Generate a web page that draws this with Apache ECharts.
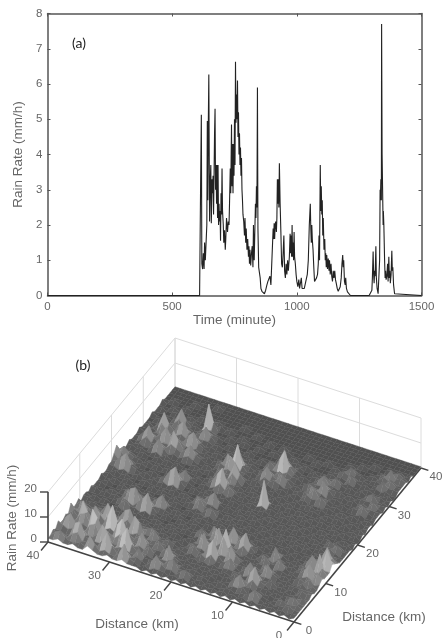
<!DOCTYPE html>
<html><head><meta charset="utf-8">
<style>html,body{margin:0;padding:0;background:#fff}#c{width:448px;height:638px}</style>
<script src="https://cdn.jsdelivr.net/npm/echarts@6/dist/echarts.min.js"></script>
</head><body><div id="c"></div>
<script>
const timeMinutes=[0,610,613,614,617,619,622,625,628,630,633,636,639,641,643,645,647,650,653,655,657,660,662,664,666,668,670,672,674,676,678,680,682,684,686,688,690,692,694,696,698,700,702,705,707,710,713,715,718,722,725,728,730,733,735,738,740,742,744,746,748,750,752,754,756,758,760,762,764,766,768,770,772,774,776,778,780,782,784,787,790,792,795,797,800,803,806,808,810,812,815,818,821,824,826,829,834,836,838,840,842,844,847,850,853,856,860,865,870,875,880,884,888,892,896,900,902,905,907,909,911,913,915,918,920,922,924,926,928,930,933,936,939,942,945,948,951,954,957,960,963,966,970,973,975,977,979,981,983,985,987,989,991,994,997,1000,1004,1008,1011,1015,1018,1021,1026,1030,1034,1038,1042,1046,1050,1054,1056,1058,1060,1062,1065,1068,1071,1075,1079,1083,1086,1089,1091,1094,1096,1098,1100,1102,1104,1106,1109,1112,1114,1116,1118,1120,1123,1126,1129,1131,1134,1137,1140,1143,1146,1149,1152,1155,1158,1162,1166,1170,1174,1178,1181,1184,1186,1188,1191,1194,1196,1199,1203,1208,1215,1290,1297,1301,1303,1306,1308,1310,1312,1314,1317,1319,1322,1326,1329,1332,1334,1335,1337,1339,1340,1342,1344,1346,1347,1349,1352,1354,1356,1358,1361,1364,1366,1369,1371,1373,1375,1378,1381,1383,1385,1388,1392,1396,1500];
const rainRate=[0,0,0,3.1,5.13,0.9,0.75,1.2,0.75,1.5,1.0,1.5,2.0,4.95,2.7,4.9,6.27,2.1,3.3,3.7,2.05,3.3,2.9,3.4,2.3,3.4,4.6,5.3,3.0,3.7,2.6,3.7,2.2,3.7,2.0,2.6,2.1,2.4,1.55,2.9,2.3,3.6,2.4,2.0,1.5,1.85,1.3,1.6,2.2,1.8,2.1,2.0,2.6,3.6,2.9,4.85,3.1,4.3,2.9,4.3,3.4,5.0,3.7,6.63,4.9,5.7,5.0,6.1,4.5,5.2,4.0,4.6,3.7,4.2,3.4,3.9,3.0,2.7,2.3,2.1,1.7,2.2,1.5,1.9,1.3,1.6,1.1,1.4,0.9,1.3,0.85,1.2,1.4,0.8,2.0,1.0,2.6,2.2,3.1,2.5,5.9,1.9,0.8,0.75,0.5,0.2,0.12,0.08,0.05,0.15,0.3,0.4,0.35,0.55,0.3,0.35,0.3,1.9,1.6,2.05,1.6,2.0,2.1,1.8,2.2,3.3,2.6,3.3,2.5,3.75,2.6,1.8,0.9,0.8,1.2,1.7,0.7,0.5,0.9,0.6,1.0,0.7,1.1,1.75,1.2,1.7,1.1,2.0,1.1,1.5,1.0,1.8,1.1,0.9,0.6,0.4,0.25,0.45,0.2,0.2,0.5,0.2,0.25,0.2,0.25,0.15,0.6,1.0,2.0,2.6,1.9,1.5,2.0,1.6,1.3,0.8,0.4,0.45,0.5,0.6,0.9,1.7,1.0,3.7,2.4,3.1,2.3,2.7,1.7,2.2,1.3,1.6,1.0,1.2,0.8,1.15,0.75,1.05,0.7,1.0,0.6,0.9,0.55,0.4,0.7,0.5,0.7,0.45,0.35,0.2,0.12,0.1,0.25,0.5,0.9,1.15,0.8,1.0,0.4,0.3,0.5,0.2,0.1,0.05,0,0,0.03,0.15,0.5,1.25,0.6,0.35,0.7,0.55,1.4,0.5,0.2,0.05,0.1,1.0,3.0,2.7,3.3,2.7,7.7,4.0,3.0,2.0,2.4,2.0,1.0,0.5,0.7,0.45,0.55,0.9,0.4,1.1,0.5,0.7,0.35,0.6,1.27,0.7,0.8,0.3,0.05,0,0];
const distanceTicks=[0,10,20,30,40];
const heightTicks=[0,10,20];
const gridStepKm=0.8;
// surface heights (mm/h); row index runs along the left base edge, column index along the right base edge
const r50=[1,1,2,1,3,1,1,2,1,4,1,1,2,0,1,1,0,1,0,0,0,1,0,0,1,1,3,5,2,1,0,0,1,0,0,0,1,0,0,0,0,1,0,0,0,1,0,0,0,0,0];
const r49=[1,3,1,1,2,4,1,1,3,2,1,3,1,0,1,0,0,1,0,1,0,0,1,0,1,2,1,3,4,1,0,1,0,0,1,0,0,0,1,0,0,0,0,1,0,0,0,0,0,0,0];
const r48=[2,4,2,0,1,6,2,1,1,1,5,2,1,1,0,1,0,0,0,0,1,0,0,1,0,4,2,1,2,1,0,0,1,1,3,1,0,1,0,0,1,0,0,0,0,0,1,0,0,0,0];
const r47=[1,2,1,1,2,3,1,4,8,3,2,1,0,1,0,0,0,1,0,0,0,1,0,0,1,6,3,1,1,0,0,1,0,3,6,2,1,0,2,1,0,1,0,0,1,0,0,0,0,0,0];
const r46=[1,1,3,6,2,1,2,5,4,1,1,3,1,0,0,1,0,0,1,0,0,0,0,1,0,2,1,0,1,0,1,0,0,1,2,1,1,4,7,2,0,0,0,1,0,0,0,0,0,0,0];
const r45=[2,1,4,7,3,1,1,1,2,6,3,1,1,1,0,0,0,1,0,0,1,0,1,0,0,1,0,1,0,0,0,0,2,1,0,3,2,2,3,1,1,2,0,0,0,1,0,0,0,0,0];
const r44=[1,2,1,2,1,4,9,3,1,3,2,1,4,1,0,0,1,0,0,1,0,0,0,0,1,0,0,0,1,0,0,1,5,2,1,6,3,1,1,0,3,6,1,0,0,0,0,1,0,0,0];
const r43=[1,1,2,1,1,5,6,2,1,1,7,3,1,0,1,1,2,1,3,1,0,1,0,0,0,1,0,0,0,0,1,0,2,1,1,2,1,1,4,2,1,2,0,1,0,0,0,0,0,0,0];
const r42=[3,6,2,1,3,1,2,1,5,2,4,1,0,1,0,3,1,5,2,0,1,0,0,1,0,0,1,0,1,0,0,1,0,3,7,3,1,2,6,2,1,0,1,0,0,0,0,0,0,0,0];
const r41=[2,3,1,1,7,4,1,2,10,4,1,2,1,0,0,1,0,6,3,1,0,0,0,0,1,0,0,0,0,0,1,0,1,2,4,2,1,1,2,1,0,1,0,0,1,0,0,0,0,0,0];
const r40=[1,1,4,2,5,3,1,1,4,2,1,5,2,1,0,1,2,1,1,0,1,0,1,0,0,1,0,0,1,0,0,0,0,1,1,1,4,2,1,1,1,0,0,0,0,0,0,0,1,0,0];
const r39=[1,2,8,3,1,2,6,3,1,1,3,6,2,0,1,0,4,2,1,1,0,0,0,0,1,2,0,1,0,0,1,0,1,3,1,0,6,3,1,2,1,1,10,2,0,0,0,0,0,0,0];
const r38=[2,1,3,1,1,4,9,5,1,2,1,2,1,0,0,1,7,3,1,1,0,0,1,0,0,5,2,1,0,0,0,0,2,5,2,1,2,1,1,5,2,1,3,0,1,0,0,0,0,0,0];
const r37=[1,1,1,2,6,2,4,2,1,7,3,1,0,1,0,0,2,1,3,1,0,1,0,0,1,7,3,2,0,1,0,0,1,2,1,0,1,0,1,2,1,0,0,1,0,0,0,0,0,0,0];
const r36=[1,3,1,2,9,4,1,1,2,5,1,1,1,0,0,1,0,1,5,2,0,0,0,1,0,2,1,4,1,0,0,1,0,1,0,1,0,1,0,0,1,0,0,0,0,0,0,0,0,0,0];
const r35=[2,7,3,1,3,1,1,3,1,1,2,1,0,0,1,0,0,1,1,0,0,1,0,0,0,0,1,1,0,0,1,0,0,0,1,0,0,0,1,0,0,0,0,1,0,0,0,0,0,0,0];
const r34=[1,2,1,1,1,2,6,3,1,1,3,1,0,1,0,0,1,0,0,0,1,0,0,1,0,0,0,0,1,0,0,0,1,0,0,0,1,0,0,0,0,1,0,0,0,0,0,0,0,0,0];
const r33=[1,1,2,4,1,1,2,1,1,4,1,0,1,0,0,0,0,0,1,0,0,0,1,0,0,1,0,0,0,0,0,1,0,0,1,0,0,0,0,1,0,0,0,0,0,1,0,0,0,0,0];
const r32=[1,0,1,1,1,3,1,1,2,1,0,1,0,0,1,0,0,1,0,0,0,1,0,0,0,0,0,1,0,1,0,0,1,2,1,0,0,1,0,0,0,0,1,0,0,0,0,0,0,0,0];
const r31=[0,1,0,1,0,1,1,3,1,1,1,0,0,1,0,0,1,0,0,1,0,1,3,1,0,1,0,0,2,1,1,3,1,1,5,2,1,0,1,0,0,1,0,0,0,0,0,0,0,0,0];
const r30=[1,0,2,1,1,0,1,1,1,2,0,0,1,0,0,1,0,0,0,0,1,4,2,1,1,0,1,1,5,2,1,1,2,6,3,1,2,1,0,0,0,0,0,0,1,0,0,0,0,0,0];
const r29=[0,1,5,2,1,1,3,1,0,1,1,0,0,0,1,0,0,1,0,1,0,1,1,3,1,0,0,3,8,3,1,2,1,4,10,5,1,0,0,1,0,0,0,0,0,0,0,0,0,0,0];
const r28=[1,1,2,1,1,6,2,1,1,0,0,1,0,0,0,0,1,0,1,0,2,1,1,5,1,0,1,1,2,1,4,7,2,1,2,1,0,1,0,0,0,1,0,0,0,0,0,0,0,0,0];
const r27=[0,1,1,3,1,2,1,0,1,1,0,0,1,0,1,0,0,0,0,1,3,1,0,1,0,1,0,3,1,1,2,3,1,1,0,1,1,0,0,0,0,0,0,1,0,0,0,0,0,0,0];
const r26=[1,0,1,4,1,1,0,1,0,1,2,1,0,1,3,1,0,1,0,0,0,1,0,0,0,0,1,1,0,1,0,1,0,0,1,0,0,0,1,0,0,0,0,0,0,0,0,0,0,0,0];
const r25=[0,1,0,1,1,0,1,0,1,3,1,1,4,1,1,0,0,0,0,1,0,0,0,1,0,1,0,0,1,0,0,0,1,0,0,1,0,0,0,0,0,1,0,0,0,0,0,0,0,0,0];
const r24=[1,0,2,1,0,1,0,1,0,1,1,6,2,1,1,4,1,0,1,0,0,1,0,0,0,0,0,1,0,0,1,0,1,0,2,1,1,3,1,0,0,0,0,1,0,0,0,0,0,0,0];
const r23=[0,1,3,1,1,0,1,0,2,1,0,2,1,1,5,2,0,1,0,0,1,0,0,1,0,1,0,0,0,1,0,1,0,2,5,2,1,1,1,1,0,0,1,0,0,0,0,0,0,0,0];
const r22=[1,0,1,0,1,1,0,1,1,5,2,1,1,7,3,1,1,0,0,1,0,0,1,0,0,0,1,0,1,0,0,0,1,1,2,1,1,5,2,0,1,0,0,0,0,0,0,0,0,0,0];
const r21=[0,1,0,1,0,0,1,0,3,8,3,1,3,2,1,2,0,0,1,0,0,1,0,0,1,0,0,1,0,0,1,0,0,2,1,3,1,9,4,1,0,1,0,0,0,0,0,0,0,0,0];
const r20=[1,0,1,1,0,1,0,1,1,2,1,7,9,2,1,6,2,0,0,1,0,0,0,1,0,0,1,10,1,0,0,1,0,1,4,1,2,3,2,0,1,0,0,0,0,0,0,0,0,0,0];
const r19=[0,1,0,0,1,0,1,0,1,0,1,3,3,1,1,3,1,1,0,0,1,0,1,0,0,1,0,1,0,1,0,0,1,0,2,1,1,1,1,1,0,0,0,1,0,0,0,0,0,0,0];
const r18=[1,0,1,0,0,1,0,1,2,1,6,2,1,1,4,1,0,0,1,0,0,0,0,1,0,0,1,0,0,0,1,0,0,1,0,0,1,0,0,0,1,0,0,0,0,0,0,0,0,0,0];
const r17=[0,1,0,1,0,0,1,1,4,1,3,1,0,3,7,2,1,0,0,1,0,1,0,0,1,0,0,0,1,0,0,1,0,0,1,0,0,1,0,0,0,0,1,0,0,0,0,0,0,0,0];
const r16=[1,0,0,1,0,1,0,1,1,1,1,0,1,1,2,1,0,1,0,0,1,0,0,1,0,0,1,0,0,1,0,0,1,1,0,1,0,0,0,1,0,0,0,0,0,0,0,0,0,0,0];
const r15=[0,1,1,0,1,0,2,1,0,1,0,1,0,1,0,1,0,0,1,0,0,1,0,0,0,1,0,0,1,0,1,0,0,1,0,2,1,0,1,0,0,0,0,1,0,0,0,0,0,0,0];
const r14=[1,0,1,1,3,1,1,0,2,1,1,0,1,0,0,0,1,0,0,1,0,0,0,1,0,0,1,0,0,0,0,1,2,1,3,1,1,2,0,1,0,0,0,0,0,0,0,0,0,0,0];
const r13=[0,1,0,1,5,2,0,1,5,2,1,1,0,2,1,0,0,1,0,0,1,0,1,0,0,1,0,0,1,0,1,0,1,4,2,1,1,4,2,0,1,0,1,0,0,0,0,0,0,0,0];
const r12=[1,0,1,2,1,1,4,1,2,1,0,1,3,1,0,1,0,0,0,1,0,0,0,0,1,0,0,1,0,0,1,0,1,1,1,5,2,1,1,1,0,1,0,0,0,0,0,0,0,0,0];
const r11=[0,1,1,0,1,3,7,3,1,1,3,1,1,0,5,2,0,1,0,0,0,1,0,1,0,0,1,0,0,1,0,0,3,1,0,2,1,1,3,1,1,2,1,0,1,0,0,0,0,0,0];
const r10=[1,0,2,1,0,1,2,1,1,5,2,0,1,2,1,1,0,0,1,0,1,0,0,0,1,0,0,1,0,0,1,0,1,1,0,0,1,0,1,0,0,1,3,1,0,0,0,0,0,0,0];
const r09=[0,1,4,2,1,1,1,1,1,2,1,1,4,1,0,0,1,0,0,1,0,0,1,0,0,1,0,0,1,0,0,1,0,0,1,0,1,0,0,1,3,1,1,0,0,1,0,0,0,0,0];
const r08=[1,0,1,1,0,1,0,2,0,1,0,1,1,0,1,0,0,1,0,0,1,0,0,1,0,0,0,1,0,1,0,0,1,0,0,1,0,0,1,0,1,0,1,0,0,0,0,0,0,0,0];
const r07=[0,1,0,0,1,0,1,0,1,0,1,0,0,1,0,1,0,0,0,1,0,0,1,0,0,1,0,0,0,0,1,0,0,1,0,0,1,0,0,0,0,1,0,0,0,0,1,0,0,0,0];
const r06=[1,0,1,0,0,1,0,1,0,1,0,1,1,0,1,0,0,1,0,0,0,1,0,0,1,0,0,1,0,1,0,1,0,0,0,1,0,0,1,0,1,0,0,1,0,0,0,0,0,0,0];
const r05=[0,1,0,1,1,0,1,0,1,0,1,0,1,2,1,2,1,0,1,0,1,0,0,1,0,0,1,0,0,0,1,0,0,1,0,0,1,0,0,1,0,0,1,0,1,0,0,0,0,0,0];
const r04=[1,0,1,2,0,1,0,1,1,0,2,1,3,1,1,5,2,1,0,1,0,1,2,0,0,1,0,0,1,0,0,1,0,1,2,1,1,2,0,0,1,1,0,2,1,0,1,0,0,0,0];
const r03=[0,1,1,1,2,1,1,0,1,2,1,2,6,2,1,3,1,3,1,0,2,1,1,1,0,0,1,0,0,1,0,0,1,3,1,0,1,3,1,0,0,3,1,1,4,1,0,0,0,0,0];
const r02=[1,0,2,1,3,1,1,2,1,0,3,1,3,1,8,3,1,7,3,1,1,3,1,0,1,0,0,1,0,0,1,0,0,1,1,3,1,0,1,0,1,1,3,1,1,2,1,0,0,0,0];
const r01=[0,1,1,2,1,2,0,1,1,2,1,5,2,4,2,9,4,3,1,1,0,1,0,1,0,0,1,0,1,0,0,1,0,0,1,1,1,1,0,1,0,1,1,0,2,1,0,0,0,0,0];
const r00=[1,1,1,1,1,1,1,2,1,1,2,3,2,2,2,4,3,2,1,1,1,1,1,0,1,0,0,1,0,1,1,0,1,1,1,0,1,0,1,0,0,1,1,1,1,0,1,0,0,0,0];
const heightRows=[r00,r01,r02,r03,r04,r05,r06,r07,r08,r09,r10,r11,r12,r13,r14,r15,r16,r17,r18,r19,r20,r21,r22,r23,r24,r25,r26,r27,r28,r29,r30,r31,r32,r33,r34,r35,r36,r37,r38,r39,r40,r41,r42,r43,r44,r45,r46,r47,r48,r49,r50];

const chart=echarts.init(document.getElementById('c'),null,{renderer:'canvas',width:448,height:638});
const axisGrey='#555',labelGrey='#666',sans='"Liberation Sans",Arial,sans-serif';
const view={fx:294,fy:622,ux:-246/40,uy:-80/40,vx:127/40,vy:-154/40,zy:-2.5,lift:0.5};
function project(api,u,v,z){
  return api.coord([view.fx+u*view.ux+v*view.vx, view.fy+u*view.uy+v*view.vy+z*view.zy]);
}
const cells=[];
for(let i=heightRows.length-1;i>=1;i--){for(let j=50;j>=1;j--){
  cells.push([i*gridStepKm,j*gridStepKm,heightRows[i][j]||0,heightRows[i][j-1]||0,heightRows[i-1][j-1]||0,heightRows[i-1][j]||0]);
}}
function renderCell(p,api){
  const u=api.value(0),v=api.value(1),a=api.value(2),b=api.value(3),c=api.value(4),d=api.value(5),s=gridStepKm,l=view.lift;
  const pts=[project(api,u,v,a+l),project(api,u,v-s,b+l),project(api,u-s,v-s,c+l),project(api,u-s,v,d+l)];
  const avg=(a+b+c+d)/4,peak=Math.max(a,b,c,d);
  const slopeV=(a+d-b-c)/2, slopeU=(a+b-c-d)/2;
  const g=Math.max(78,Math.min(192,Math.round(80+avg*10+peak*5+slopeV*2.5-slopeU*1.5)));
  const col='rgb('+g+','+g+','+g+')';
  return {type:'polygon',shape:{points:pts},style:{fill:col,stroke:col,lineWidth:0.4},silent:true};
}
const lineStyleOf=(c,w)=>({stroke:c,lineWidth:w,fill:null});
function line(api,a,b,c,w){
  const p=project(api,a[0],a[1],a[2]),q=project(api,b[0],b[1],b[2]);
  return {type:'line',shape:{x1:p[0],y1:p[1],x2:q[0],y2:q[1]},style:lineStyleOf(c,w),silent:true};
}
function renderWalls(p,api){
  const wall='#dcdcdc',k=[];
  heightTicks.forEach(z=>{ if(z>0){k.push(line(api,[40,0,z],[40,40,z],wall,1));k.push(line(api,[40,40,z],[0,40,z],wall,1));}});
  distanceTicks.forEach(d=>{
    k.push(line(api,[40,d,0],[40,d,20],wall,1));
    k.push(line(api,[d,40,0],[d,40,20],wall,1));
  });
  return {type:'group',children:k};
}
function txt(pt,s,align){
  return {type:'text',silent:true,style:{x:pt[0],y:pt[1],text:s,align:align||'center',verticalAlign:'middle',fill:labelGrey,font:'11.5px '+sans}};
}
function renderAxes(p,api){
  const dark='#444',k=[];
  k.push(line(api,[0,0,0],[40,0,0],dark,1.6));
  k.push(line(api,[0,0,0],[0,40,0],dark,1.6));
  k.push(line(api,[40,0,0],[40,0,20],dark,1.6));
  distanceTicks.forEach(d=>{
    k.push(line(api,[d,0,0],[d,-2.2,0],dark,1.4));
    k.push(line(api,[0,d,0],[-1.2,d,0],dark,1.4));
    const a=project(api,d,0,0),b=project(api,0,d,0);
    k.push(txt([a[0]-15,a[1]+14],String(d)));
    k.push(txt([b[0]+15,b[1]+9],String(d)));
  });
  heightTicks.forEach(z=>{
    const a=project(api,40,0,z);
    k.push({type:'line',shape:{x1:a[0],y1:a[1],x2:a[0]-8,y2:a[1]},style:lineStyleOf(dark,1.4),silent:true});
    k.push(txt([a[0]-11,a[1]-3],String(z),'right'));
  });
  return {type:'group',children:k};
}
const plainAxis={show:false,type:'value',gridIndex:1};
const boxLine={show:true,onZero:false,lineStyle:{color:axisGrey,width:1.5}};
const boxTick={show:true,inside:true,length:3,lineStyle:{color:axisGrey,width:1}};
chart.setOption({
  animation:false,
  backgroundColor:'#fff',
  textStyle:{fontFamily:sans},
  grid:[
    {left:47.5,top:13.5,width:374,height:282,show:false},
    {left:0,top:320,width:448,height:318,show:false}
  ],
  xAxis:[
    {type:'value',gridIndex:0,min:0,max:1500,interval:500,position:'bottom',
     name:'Time (minute)',nameLocation:'middle',nameGap:18,nameTextStyle:{color:labelGrey,fontSize:13.5,fontFamily:sans},
     axisLine:boxLine,axisTick:boxTick,
     axisLabel:{color:labelGrey,fontSize:11.5,margin:5,fontFamily:sans,formatter:v=>String(v)},splitLine:{show:false}},
    {type:'value',gridIndex:0,min:0,max:1500,interval:500,position:'top',
     axisLine:boxLine,axisTick:boxTick,axisLabel:{show:false},splitLine:{show:false}},
    Object.assign({},plainAxis,{min:0,max:448})
  ],
  yAxis:[
    {type:'value',gridIndex:0,min:0,max:8,interval:1,position:'left',
     name:'Rain Rate (mm/h)',nameLocation:'middle',nameGap:17,nameTextStyle:{color:labelGrey,fontSize:13.5,fontFamily:sans},
     axisLine:boxLine,axisTick:boxTick,
     axisLabel:{color:labelGrey,fontSize:11.5,margin:5,fontFamily:sans},splitLine:{show:false}},
    {type:'value',gridIndex:0,min:0,max:8,interval:1,position:'right',
     axisLine:boxLine,axisTick:boxTick,axisLabel:{show:false},splitLine:{show:false}},
    Object.assign({},plainAxis,{min:320,max:638,inverse:true})
  ],
  series:[
    {type:'line',xAxisIndex:0,yAxisIndex:0,showSymbol:false,symbol:'none',z:5,
     lineStyle:{color:'#222',width:1.1},data:timeMinutes.map((t,i)=>[t,rainRate[i]])},
    {type:'custom',xAxisIndex:2,yAxisIndex:2,clip:false,silent:true,z:1,data:[[0,0]],renderItem:renderWalls},
    {type:'custom',xAxisIndex:2,yAxisIndex:2,clip:false,silent:true,z:2,progressive:0,data:cells,renderItem:renderCell},
    {type:'custom',xAxisIndex:2,yAxisIndex:2,clip:false,silent:true,z:3,data:[[0,0]],renderItem:renderAxes}
  ],
  graphic:[
    {type:'text',x:79,y:43,style:{text:'(a)',fill:'#222',font:'14px Lato,"Open Sans",sans-serif',align:'center',verticalAlign:'middle'}},
    {type:'text',x:83,y:365,style:{text:'(b)',fill:'#222',font:'14px Lato,"Open Sans",sans-serif',align:'center',verticalAlign:'middle'}},
    {type:'text',x:137,y:624,style:{text:'Distance (km)',fill:labelGrey,font:'13.5px '+sans,align:'center',verticalAlign:'middle'}},
    {type:'text',x:384,y:617,style:{text:'Distance (km)',fill:labelGrey,font:'13.5px '+sans,align:'center',verticalAlign:'middle'}},
    {type:'text',x:12,y:518,rotation:Math.PI/2,style:{text:'Rain Rate (mm/h)',fill:labelGrey,font:'13.5px '+sans,align:'center',verticalAlign:'middle'}}
  ]
});
</script></body></html>
